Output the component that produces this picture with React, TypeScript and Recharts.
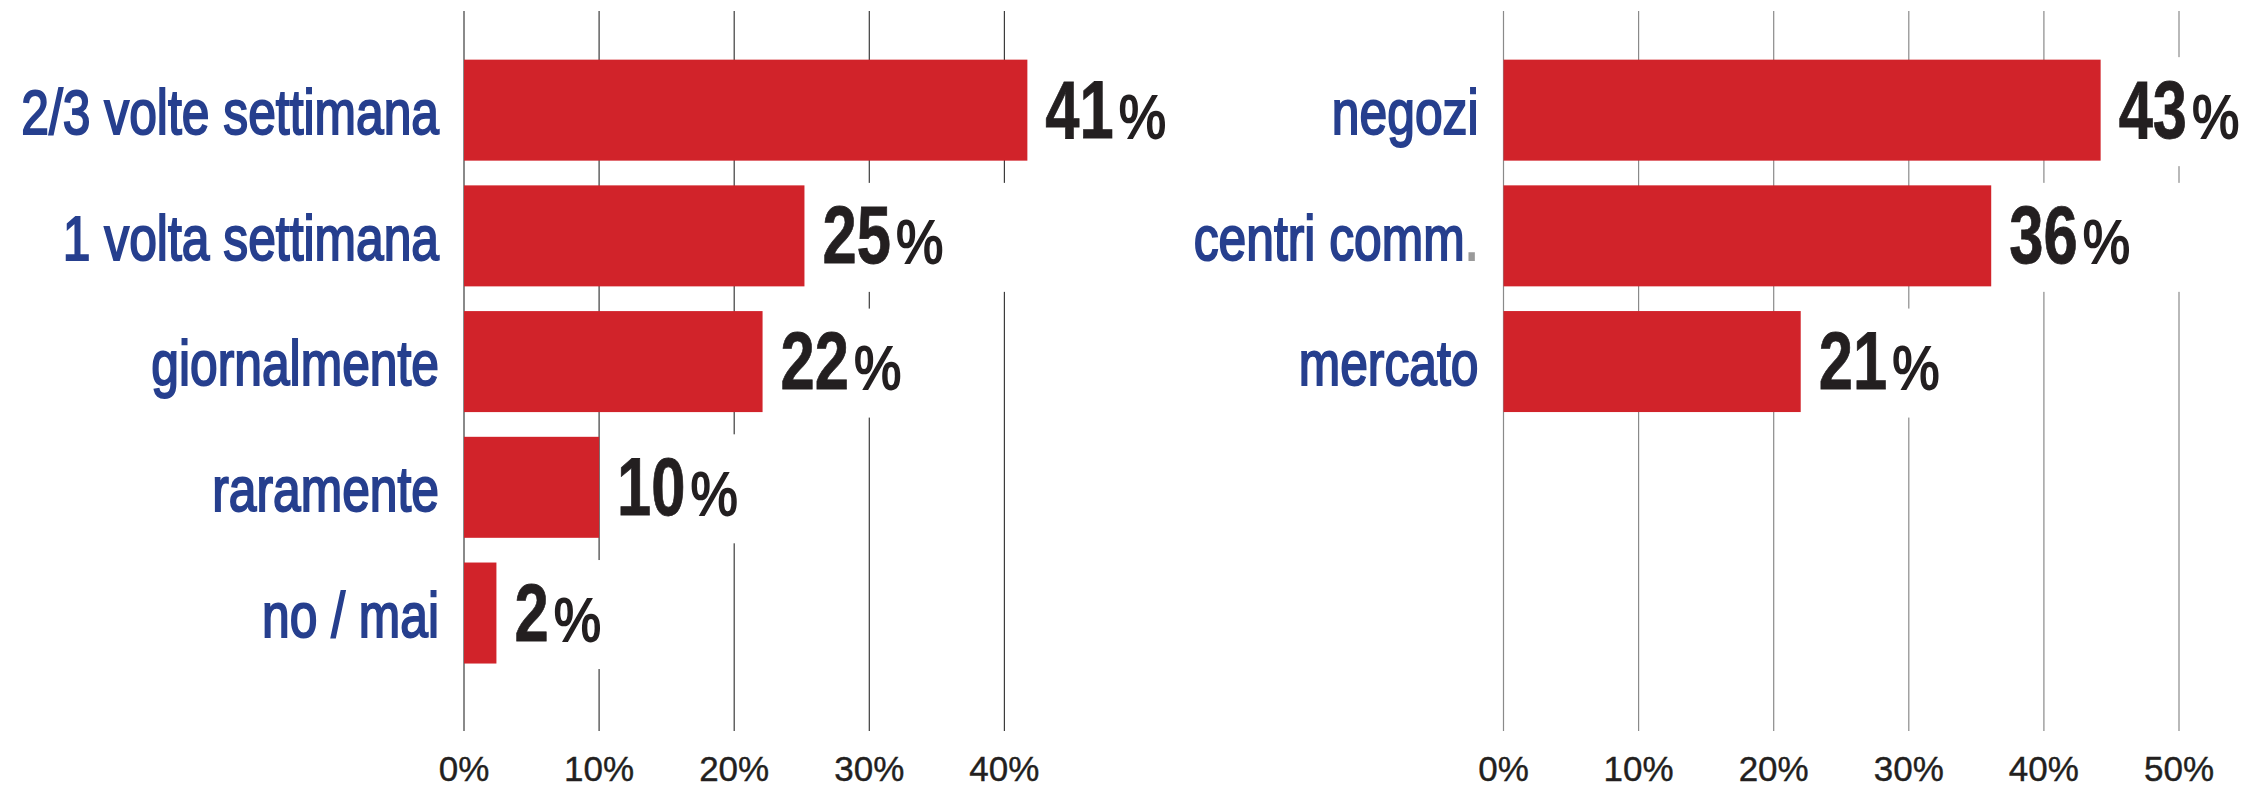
import React from 'react';
import { BarChart, Bar, XAxis, YAxis, CartesianGrid } from 'recharts';

const freqCategories = ['2/3 volte settimana', '1 volta settimana', 'giornalmente', 'raramente', 'no / mai'];
const freqValues = [41.7, 25.2, 22.1, 10.0, 2.4];
const freqLabels = ['41', '25', '22', '10', '2'];
const freqTicks = [0, 10, 20, 30, 40];

const placeCategories = ['negozi', 'centri comm.', 'mercato'];
const placeValues = [44.2, 36.1, 22.0];
const placeLabels = ['43', '36', '21'];
const placeTicks = [0, 10, 20, 30, 40, 50];

const FONT = '"Liberation Sans", Arial, Helvetica, sans-serif';
const RED = '#d1232a';
const BLUE = '#263f8e';
const DARK = '#231f20';

const freqRows = freqCategories.map((name, i) => ({ name, value: freqValues[i], label: freqLabels[i] }));
const placeRows = placeCategories.map((name, i) => ({ name, value: placeValues[i], label: placeLabels[i] }));

const BarShape = (props: any) => {
  const { x, y, width, height, payload } = props;
  const cy = y + height / 2;
  const endX = x + width;
  const label: string = String(payload.label);
  const digitScale = 0.76;
  const digitSize = 81;
  const digitsAdvance = label.length * 0.556 * digitSize * digitScale;
  const tx = endX + 18;
  const by = cy + 27.5;
  return (
    <g>
      <rect x={x} y={y} width={width} height={height} fill={RED} />
      <rect x={endX + 2} y={cy - 53} width={200} height={109} fill="#ffffff" />
      <g transform={`translate(${tx},${by}) scale(${digitScale},1)`}>
        <text x={0} y={0} fontFamily={FONT} fontWeight="bold" fontSize={digitSize} fill={DARK} stroke={DARK} strokeWidth={0.8}>{label}</text>
      </g>
      <g transform={`translate(${tx + digitsAdvance + 5},${by}) scale(0.86,1)`}>
        <text x={0} y={0} fontFamily={FONT} fontSize={62} fill={DARK} stroke={DARK} strokeWidth={1.8}>%</text>
      </g>
    </g>
  );
};

const CatTick = (props: any) => {
  const { x, y, payload } = props;
  const s: string = String(payload.value);
  const hasDot = s.endsWith('.');
  const main = hasDot ? s.slice(0, -1) : s;
  return (
    <g transform={`translate(${x - 25},${y + 23.5}) scale(0.79,1)`}>
      <text x={0} y={0} textAnchor="end" fontFamily={FONT} fontSize={63} fill={BLUE} stroke={BLUE} strokeWidth={2}>
        {main}
        {hasDot ? <tspan fill="#9a9a9a" stroke="#9a9a9a">.</tspan> : null}
      </text>
    </g>
  );
};

const PctTick = (props: any) => {
  const { x, y, payload } = props;
  return (
    <text x={x} y={y + 50} textAnchor="middle" fontFamily={FONT} fontSize={35} fill={DARK} stroke={DARK} strokeWidth={0.4}>
      {`${payload.value}%`}
    </text>
  );
};

type PanelProps = {
  rows: any[];
  ticks: number[];
  width: number;
  yWidth: number;
  marginRight: number;
  padBottom: number;
  gridColor: string;
};

const Panel = ({ rows, ticks, width, yWidth, marginRight, padBottom, gridColor }: PanelProps) => (
  <BarChart
    width={width}
    height={788}
    data={rows}
    layout="vertical"
    margin={{ top: 11, right: marginRight, bottom: 0, left: 0 }}
    barSize={101}
  >
    <CartesianGrid horizontal={false} vertical={true} syncWithTicks={true} stroke={gridColor} strokeWidth={1.2} />
    <XAxis
      type="number"
      domain={[0, 50]}
      ticks={ticks}
      interval={0}
      axisLine={false}
      tickLine={false}
      tickSize={0}
      tickMargin={0}
      height={57}
      tick={<PctTick />}
    />
    <YAxis
      type="category"
      dataKey="name"
      width={yWidth}
      interval={0}
      axisLine={false}
      tickLine={false}
      tickSize={0}
      tickMargin={0}
      padding={{ top: 36.65, bottom: padBottom }}
      tick={<CatTick />}
    />
    <Bar dataKey="value" isAnimationActive={false} shape={<BarShape />} />
  </BarChart>
);

export default function App() {
  return (
    <div style={{ position: 'absolute', left: 0, top: 0, width: 2253, height: 788, background: '#ffffff' }}>
      <div style={{ position: 'absolute', left: 0, top: 0 }}>
        <Panel rows={freqRows} ticks={freqTicks} width={1180} yWidth={464} marginRight={40.5} padBottom={54.75} gridColor="#3c3c3c" />
      </div>
      <div style={{ position: 'absolute', left: 1180, top: 0 }}>
        <Panel rows={placeRows} ticks={placeTicks} width={1073} yWidth={323.5} marginRight={74} padBottom={306.25} gridColor="#8a8a8a" />
      </div>
    </div>
  );
}
